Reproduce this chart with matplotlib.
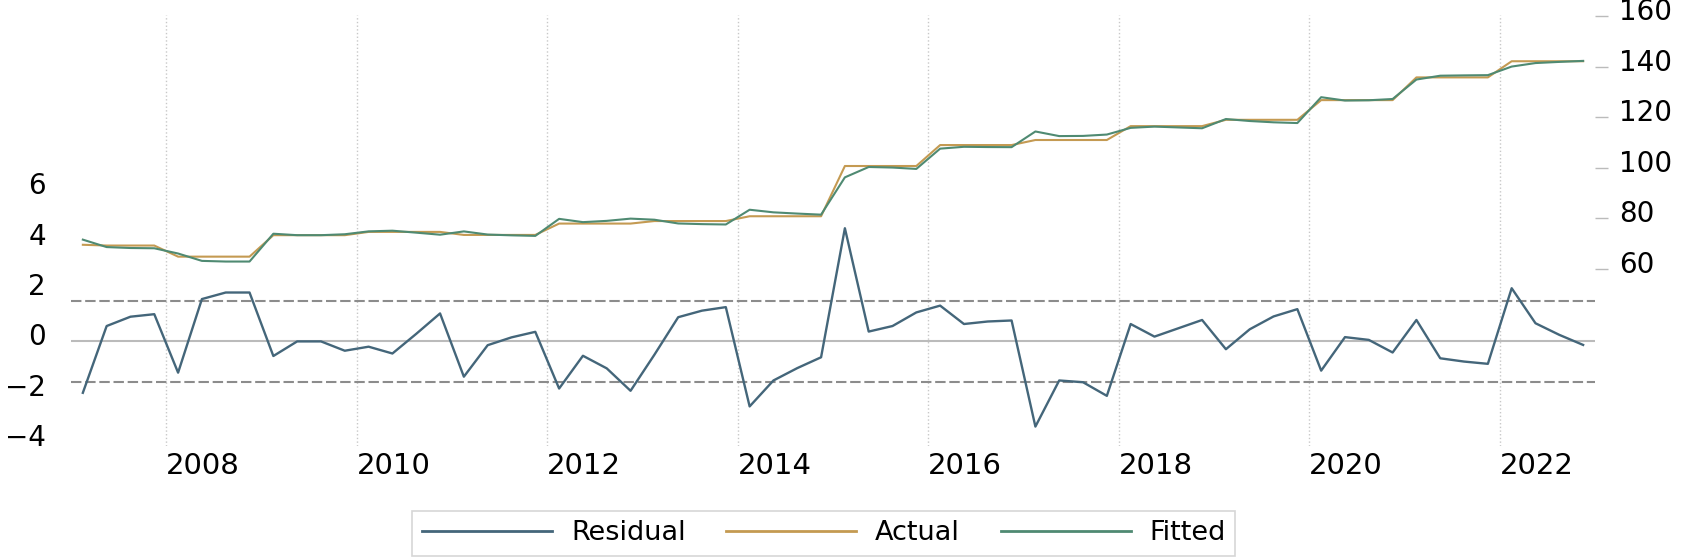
import matplotlib
matplotlib.use('Agg')
import matplotlib.pyplot as plt
import matplotlib.transforms as mtransforms
from matplotlib.lines import Line2D

# quarterly data, 2007Q1 .. 2022Q4
YEARS = list(range(2007, 2023))

residual = [-2.04, 0.61, 0.98, 1.08,
            -1.24, 1.68, 1.94, 1.94,
            -0.58, 0.00, 0.00, -0.37,
            -0.21, -0.48, 0.30, 1.11,
            -1.40, -0.15, 0.16, 0.38,
            -1.87, -0.57, -1.07, -1.96,
            -0.53, 0.96, 1.22, 1.36,
            -2.58, -1.55, -1.06, -0.63,
            4.49, 0.39, 0.61, 1.15,
            1.42, 0.69, 0.79, 0.83,
            -3.38, -1.55, -1.62, -2.16,
            0.69, 0.19, 0.52, 0.85,
            -0.31, 0.48, 0.99, 1.28,
            -1.16, 0.17, 0.06, -0.44,
            0.85, -0.67, -0.80, -0.89,
            2.11, 0.72, 0.26, -0.14]

actual = [69.5, 69.2, 69.2, 69.2,
          64.8, 64.8, 64.8, 64.8,
          73.3, 73.3, 73.3, 73.3,
          74.6, 74.6, 74.6, 74.6,
          73.4, 73.4, 73.4, 73.4,
          77.9, 77.9, 77.9, 77.9,
          78.9, 78.9, 78.9, 78.9,
          80.8, 80.8, 80.8, 80.8,
          100.7, 100.7, 100.7, 100.7,
          109.0, 109.0, 109.0, 109.0,
          111.0, 111.0, 111.0, 111.0,
          116.5, 116.5, 116.5, 116.5,
          119.0, 119.0, 119.0, 119.0,
          126.8, 126.8, 126.8, 126.8,
          135.8, 135.8, 135.8, 135.8,
          142.2, 142.2, 142.2, 142.2]

fitted = [71.54, 68.59, 68.22, 68.12,
          66.04, 63.12, 62.86, 62.86,
          73.88, 73.30, 73.30, 73.67,
          74.81, 75.08, 74.30, 73.49,
          74.80, 73.55, 73.24, 73.02,
          79.77, 78.47, 78.97, 79.86,
          79.43, 77.94, 77.68, 77.54,
          83.38, 82.35, 81.86, 81.43,
          96.21, 100.31, 100.09, 99.55,
          107.58, 108.31, 108.21, 108.17,
          114.38, 112.55, 112.62, 113.16,
          115.81, 116.31, 115.98, 115.65,
          119.31, 118.52, 118.01, 117.72,
          127.96, 126.63, 126.74, 127.24,
          134.95, 136.47, 136.60, 136.69,
          140.09, 141.48, 141.94, 142.34]

se_band = 1.6
year_ticks = [2008, 2010, 2012, 2014, 2016, 2018, 2020, 2022]
left_ticks = [-4, -2, 0, 2, 4, 6]
right_ticks = [60, 80, 100, 120, 140, 160]

# mid-quarter positions
x = [y + (q + 0.5) / 4 for y in YEARS for q in range(4)]

c_resid = '#44667a'
c_actual = '#c49a52'
c_fitted = '#4f8a72'

plt.rcParams['font.family'] = 'DejaVu Sans'

fig = plt.figure(figsize=(17.01, 5.57), dpi=100)
ax = fig.add_axes([0.0417, 0.1993, 0.896, 0.7737])
ax2 = ax.twinx()

# residual panel (left axis)
for yr in year_ticks:
    ax.axvline(yr, color='#c8c8c8', lw=1, ls=':', zorder=0)
ax.axhline(0, color='#bbbbbb', lw=1.5, zorder=1)
for v in (se_band, -se_band):
    ax.axhline(v, color='#8c8c8c', lw=1.5, ls=(0, (5, 1.8)), zorder=1)
ax.plot(x, residual, color=c_resid, lw=1.7, zorder=3)

ax.set_xlim(2007, 2023)
ax.set_ylim(-4.15, 12.95)
ax.set_yticks(left_ticks)
ax.set_xticks(year_ticks)
ax.tick_params(axis='y', length=0, pad=18, labelsize=20)
ax.tick_params(axis='x', length=0, pad=4, labelsize=21)
for lab in ax.get_xticklabels():
    lab.set_horizontalalignment('left')

# actual / fitted (right axis)
ax2.plot(x, actual, color=c_actual, lw=1.5, zorder=3)
ax2.plot(x, fitted, color=c_fitted, lw=1.5, zorder=4)
ax2.set_ylim(-10.2, 160.5)
ax2.set_yticks(right_ticks)
ax2.tick_params(axis='y', length=9.5, width=1, color='#bbbbbb', pad=8, labelsize=20)

for a in (ax, ax2):
    for s in a.spines.values():
        s.set_visible(False)

# labels sit a few pixels above their tick
shift = mtransforms.ScaledTranslation(0, 0.07, fig.dpi_scale_trans)
for lab in ax.get_yticklabels() + ax2.get_yticklabels():
    lab.set_transform(lab.get_transform() + shift)

handles = [Line2D([], [], color=c_resid, lw=2),
           Line2D([], [], color=c_actual, lw=2),
           Line2D([], [], color=c_fitted, lw=2)]
leg = fig.legend(handles, ['Residual', 'Actual', 'Fitted'], loc='center',
                 bbox_to_anchor=(0.4844, 0.043), ncol=3, frameon=True,
                 fancybox=False, fontsize=19.5, handlelength=4.8,
                 handletextpad=0.7, columnspacing=1.5, borderpad=0.35)
leg.get_frame().set_edgecolor('#cccccc')
leg.get_frame().set_linewidth(1.2)

fig.savefig('out.png', dpi=100)
